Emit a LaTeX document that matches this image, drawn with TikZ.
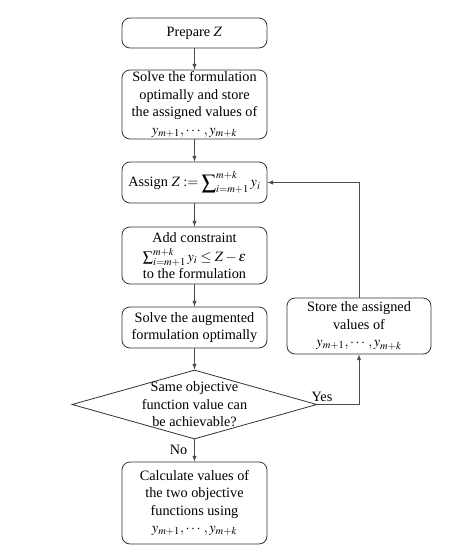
\documentclass[tikz,border=0pt]{standalone}
\usepackage{amsmath}
\usepackage{amssymb}
\usepackage{mathptmx}
\usepackage{fontspec}
\setmainfont{Liberation Serif}
\usetikzlibrary{arrows,positioning,shapes}

\begin{document}
\begin{tikzpicture}[x=0.75pt,y=-0.75pt, font=\fontsize{10.7}{13.1}\selectfont,
    step box/.style={draw=black!80,line width=0.6pt,rounded corners=6pt,align=center,inner sep=0pt,minimum width=108.75pt},
    decision/.style={draw=black!80,line width=0.6pt,diamond,inner sep=0pt,minimum width=183.75pt,minimum height=51.75pt},
    conn/.style={-latex,draw=black!70,line width=0.5pt}]
    \useasboundingbox (0,0) rectangle (466,554);
    \node[step box,minimum height=22.5pt] (prep) at (194.5,33) {Prepare $Z$};
    \node[step box,minimum height=51.75pt] (solve) at (194.5,104.5) {Solve the formulation\\optimally and store\\the assigned values of\\$y_{m+1},\cdots,y_{m+k}$};
    \node[step box,minimum height=30.75pt] (assign) at (194.5,182.5) {Assign $Z:=\displaystyle\sum\nolimits_{i=m+1}^{m+k}y_i$};
    \node[step box,minimum height=42.75pt] (addc) at (194.5,255.5) {Add constraint\\[1pt]$\sum_{i=m+1}^{m+k}y_i\le Z-\varepsilon$\\to the formulation};
    \node[step box,minimum height=30.75pt] (aug) at (194.5,327.5) {Solve the augmented\\formulation optimally};
    \node[decision] (dec) at (194.5,404.5) {};
    \node[align=center,inner sep=0pt] (dectext) at (dec) {Same objective\\function value can\\be achievable?};
    \node[step box,minimum height=61.5pt] (calc) at (194.5,503) {Calculate values of\\the two objective\\functions using\\$y_{m+1},\cdots,y_{m+k}$};
    \node[step box,minimum width=108pt,minimum height=42pt] (store) at (359,326) {Store the assigned\\values of\\$y_{m+1},\cdots,y_{m+k}$};

    \draw[conn] (prep) -- (solve);
    \draw[conn] (solve) -- (assign);
    \draw[conn] (assign) -- (addc);
    \draw[conn] (addc) -- (aug);
    \draw[conn] (aug) -- (dec);
    \draw[conn] (dec) -- (calc);
    \draw[conn] (dec.east) -| (store.south);
    \draw[conn] (store.north) |- (assign.east);
    \node at (322,397) {Yes};
    \node at (178.5,450) {No};
  \end{tikzpicture}
\end{document}
